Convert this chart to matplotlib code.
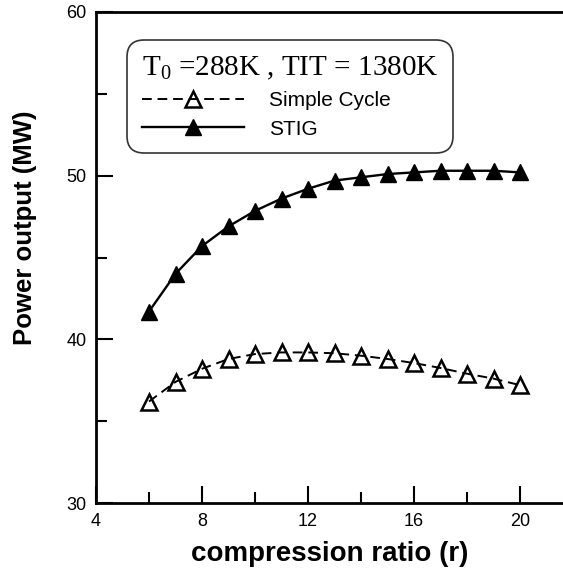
import matplotlib
matplotlib.use("Agg")
import matplotlib.pyplot as plt
from matplotlib.ticker import MultipleLocator

plt.rcParams['font.family'] = ['Liberation Sans', 'DejaVu Sans']
plt.rcParams['mathtext.fontset'] = 'custom'
plt.rcParams['mathtext.rm'] = 'Liberation Serif'
plt.rcParams['mathtext.it'] = 'Liberation Serif'

r = [6, 7, 8, 9, 10, 11, 12, 13, 14, 15, 16, 17, 18, 19, 20]
simple_cycle = [36.2, 37.4, 38.2, 38.8, 39.1, 39.2, 39.2, 39.15, 39.0, 38.8, 38.55, 38.25, 37.9, 37.6, 37.2]
stig = [41.7, 44.0, 45.7, 46.9, 47.85, 48.6, 49.2, 49.7, 49.9, 50.1, 50.2, 50.3, 50.3, 50.3, 50.2]

fig = plt.figure(figsize=(5.63, 5.76), dpi=100)
ax = fig.add_axes([96/563, 1-503/576, 467/563, 491/576])

ax.plot(r, simple_cycle, linestyle=(0, (5, 3)), color='black', lw=1.4,
        marker='^', markersize=11, markerfacecolor='none', markeredgecolor='black',
        markeredgewidth=1.8, label='Simple Cycle')
ax.plot(r, stig, linestyle='-', color='black', lw=1.7,
        marker='^', markersize=11, markerfacecolor='black', markeredgecolor='black',
        label='STIG')

ax.set_xlim(4, 4 + 467/26.5)
ax.set_ylim(30, 60)
ax.set_xticks([4, 8, 12, 16, 20])
ax.xaxis.set_minor_locator(MultipleLocator(2))
ax.yaxis.set_major_locator(MultipleLocator(10))
ax.yaxis.set_minor_locator(MultipleLocator(5))

ax.spines['right'].set_visible(False)
for s in ['left', 'bottom', 'top']:
    ax.spines[s].set_linewidth(2)

ax.tick_params(which='major', direction='in', length=12, width=1.5, labelsize=13, pad=7)
ax.tick_params(which='minor', direction='in', length=8, width=1.5)
ax.tick_params(top=False, right=False, which='both')

ax.set_xlabel('compression ratio (r)', fontsize=20, fontweight='bold', labelpad=8)
ax.set_ylabel('Power output (MW)', fontsize=18.5, fontweight='bold')
ax.yaxis.set_label_coords(-0.127, 0.56)

leg = ax.legend(loc='upper left', bbox_to_anchor=((127-96)/467, (503-40)/491),
                borderaxespad=0, title='T$_0$ =288K , TIT = 1380K',
                title_fontproperties={'family': 'Liberation Serif', 'size': 21},
                fontsize=15, handlelength=4.9, numpoints=1, fancybox=True,
                framealpha=1, edgecolor='#333333', labelspacing=0.45,
                borderpad=0.7, handletextpad=1.2, alignment='left')
leg.get_frame().set_linewidth(1.2)
leg.get_frame().set_boxstyle('round', pad=0.0, rounding_size=0.8)

fig.savefig('out.png', dpi=100)
